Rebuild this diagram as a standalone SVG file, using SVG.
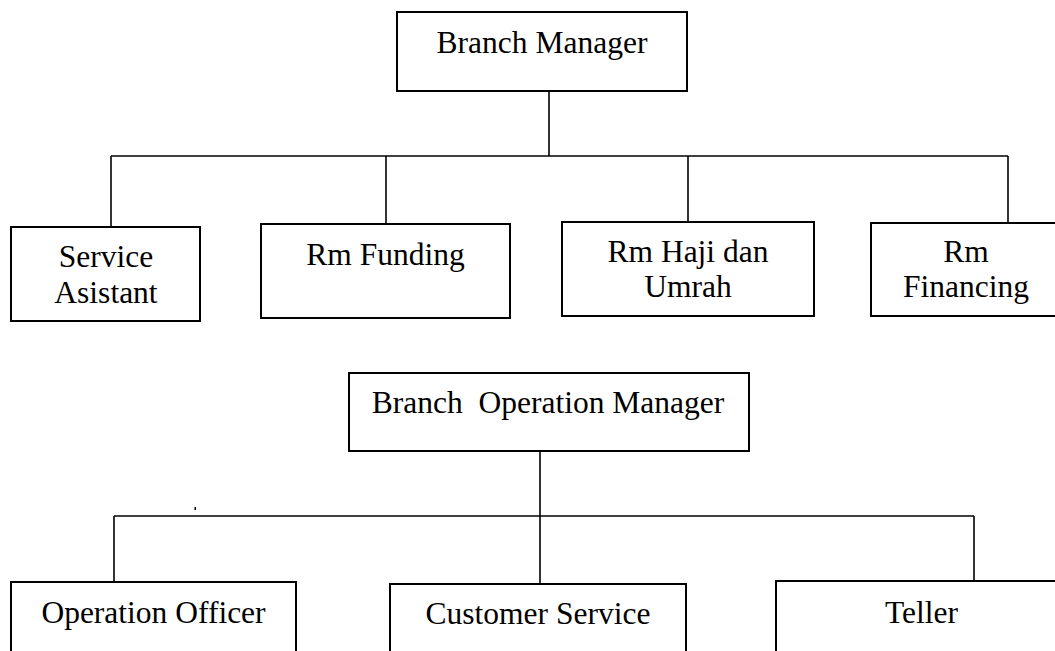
<svg xmlns="http://www.w3.org/2000/svg" width="1055" height="651" viewBox="0 0 1055 651">
<style>
.box{fill:#fff;stroke:#000;stroke-width:2}
.ln{stroke:#000;stroke-width:1.6;fill:none}
.t{font-family:'Liberation Serif',serif;font-size:31.5px;fill:#000;text-anchor:middle}
</style>
<rect width="1055" height="651" fill="#fff"/>
<g id="connectors">
<line class="ln" x1="549" y1="91" x2="549" y2="156"/>
<line class="ln" x1="111" y1="156" x2="1008" y2="156"/>
<line class="ln" x1="111" y1="156" x2="111" y2="227"/>
<line class="ln" x1="386" y1="156" x2="386" y2="224"/>
<line class="ln" x1="688" y1="156" x2="688" y2="222"/>
<line class="ln" x1="1008" y1="156" x2="1008" y2="223"/>
<line class="ln" x1="540" y1="451" x2="540" y2="516"/>
<line class="ln" x1="114" y1="516" x2="974" y2="516"/>
<line class="ln" x1="114" y1="516" x2="114" y2="582"/>
<line class="ln" x1="540" y1="516" x2="540" y2="584"/>
<line class="ln" x1="974" y1="516" x2="974" y2="581"/>
<rect x="194.5" y="507" width="1.5" height="3" fill="#000"/>
</g>
<g id="branch-manager">
<rect class="box" x="397" y="12" width="290" height="79"/>
<text class="t" x="542" y="53" font-family="Liberation Serif, serif">Branch Manager</text>
</g>
<g id="service-asistant">
<rect class="box" x="11" y="227" width="189" height="94"/>
<text class="t" x="106" y="267" font-family="Liberation Serif, serif">Service</text>
<text class="t" x="106" y="303" font-family="Liberation Serif, serif">Asistant</text>
</g>
<g id="rm-funding">
<rect class="box" x="261" y="224" width="249" height="94"/>
<text class="t" x="385.5" y="265" font-family="Liberation Serif, serif">Rm Funding</text>
</g>
<g id="rm-haji">
<rect class="box" x="562" y="222" width="252" height="94"/>
<text class="t" x="688" y="262" font-family="Liberation Serif, serif">Rm Haji dan</text>
<text class="t" x="688" y="297" font-family="Liberation Serif, serif">Umrah</text>
</g>
<g id="rm-financing">
<rect class="box" x="871" y="223" width="190" height="93"/>
<text class="t" x="966" y="262" font-family="Liberation Serif, serif">Rm</text>
<text class="t" x="966" y="297" font-family="Liberation Serif, serif">Financing</text>
</g>
<g id="branch-operation-manager">
<rect class="box" x="349" y="373" width="400" height="78"/>
<text class="t" x="548" y="413" xml:space="preserve" font-family="Liberation Serif, serif">Branch  Operation Manager</text>
</g>
<g id="operation-officer">
<rect class="box" x="11" y="582" width="285" height="80"/>
<text class="t" x="153.5" y="623" font-family="Liberation Serif, serif">Operation Officer</text>
</g>
<g id="customer-service">
<rect class="box" x="390" y="584" width="296" height="80"/>
<text class="t" x="538" y="624" font-family="Liberation Serif, serif">Customer Service</text>
</g>
<g id="teller">
<rect class="box" x="776" y="581" width="291" height="80"/>
<text class="t" x="921.5" y="623" font-family="Liberation Serif, serif">Teller</text>
</g>
</svg>
